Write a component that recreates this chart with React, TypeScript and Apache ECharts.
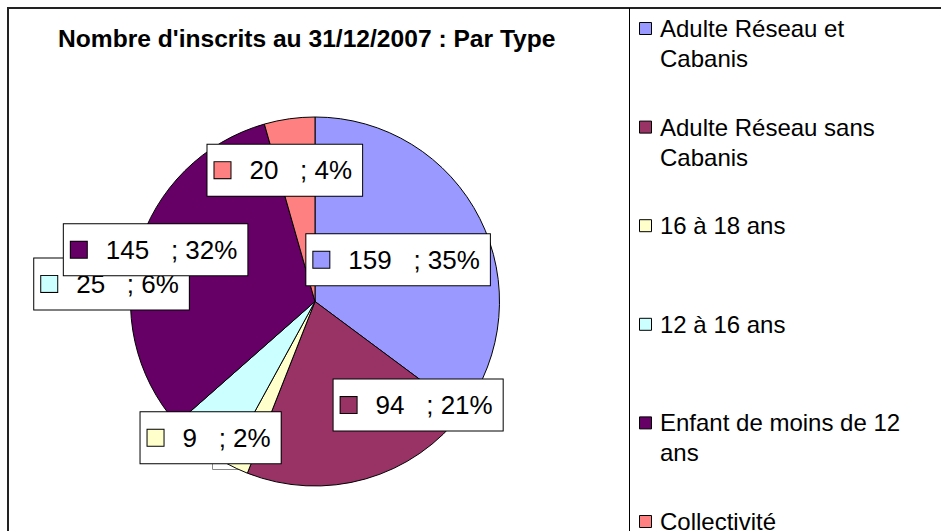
import React, { useEffect, useRef } from "react";
import * as echarts from "echarts";

const chartTitle = "Nombre d'inscrits au 31/12/2007 : Par Type";
const categories = [
  "Adulte Réseau et Cabanis",
  "Adulte Réseau sans Cabanis",
  "16 à 18 ans",
  "12 à 16 ans",
  "Enfant de moins de 12 ans",
  "Collectivité",
];
const legendLabels = [
  "Adulte Réseau et\nCabanis",
  "Adulte Réseau sans\nCabanis",
  "16 à 18 ans",
  "12 à 16 ans",
  "Enfant de moins de 12\nans",
  "Collectivité",
];
const values = [159, 94, 9, 25, 145, 20];
const colors = ["#9999FF", "#993366", "#FFFFCC", "#CCFFFF", "#660066", "#FF8080"];

// label nudges relative to the library's own "inside" placement (layout, not data)
const labelOffsets = [
  [-2, 1],
  [77, 12],
  [-64, 50],
  [-144, -92],
  [-68, -25],
  [-17, -37],
];

const FONT = "'Liberation Sans', Arial, sans-serif";

export default function App() {
  const ref = useRef<HTMLDivElement>(null);
  useEffect(() => {
    if (!ref.current) return;
    const chart = echarts.init(ref.current, undefined, { renderer: "svg" });

    const rich: any = {
      g: { width: 19, height: 17 },
      t: { fontSize: 26, lineHeight: 31, color: "#000", fontFamily: FONT },
    };
    colors.forEach((c, i) => {
      rich["k" + i] = {
        width: 16,
        height: 16,
        backgroundColor: c,
        borderColor: "#000",
        borderWidth: 1,
      };
    });

    const legendGraphics: any[] = [];
    categories.forEach((_, i) => {
      const cy = 28.5 + i * 98.6;
      legendGraphics.push({
        type: "rect",
        shape: { x: 639.5, y: cy - 6, width: 12, height: 12 },
        style: { fill: colors[i], stroke: "#000", lineWidth: 1 },
        z: 10,
      });
      legendGraphics.push({
        type: "text",
        x: 660,
        y: cy - 15,
        style: {
          text: legendLabels[i],
          font: `24px ${FONT}`,
          lineHeight: 30,
          fill: "#000",
          verticalAlign: "top",
          align: "left",
        },
        z: 10,
      });
    });

    chart.setOption({
      animation: false,
      backgroundColor: "#fff",
      title: {
        text: chartTitle,
        left: 58,
        top: 24,
        padding: 0,
        textStyle: {
          fontFamily: FONT,
          fontWeight: "bold",
          fontSize: 24.6,
          lineHeight: 28,
          color: "#000",
        },
      },
      graphic: [
        {
          type: "rect",
          shape: { x: 8, y: 8, width: 1000, height: 700 },
          style: { fill: "none", stroke: "#222", lineWidth: 2 },
          z: 0,
        },
        {
          type: "line",
          shape: { x1: 629.5, y1: 8, x2: 629.5, y2: 540 },
          style: { stroke: "#000", lineWidth: 1 },
          z: 0,
        },
        {
          type: "rect",
          shape: { x: 212.5, y: 450.5, width: 28, height: 19 },
          style: { fill: "#fff", stroke: "#888", lineWidth: 1 },
          z: 1,
        },
        ...legendGraphics,
      ],
      series: [
        {
          type: "pie",
          center: [315, 301.5],
          radius: [0, 184.5],
          startAngle: 90,
          clockwise: true,
          silent: true,
          avoidLabelOverlap: false,
          emphasis: { disabled: true },
          itemStyle: { borderColor: "#000", borderWidth: 1 },
          labelLine: { show: false },
          labelLayout: { hideOverlap: false },
          label: {
            show: true,
            position: "inside",
            backgroundColor: "#fff",
            borderColor: "#000",
            borderWidth: 1,
            padding: [10, 10, 10, 7],
            fontFamily: FONT,
            fontSize: 26,
            color: "#000",
            formatter: (p: any) =>
              `{k${p.dataIndex}|}{g|}{t|${p.value}   ; ${Math.round(p.percent)}%}`,
            rich,
          },
          data: categories.map((name, i) => ({
            name,
            value: values[i],
            itemStyle: { color: colors[i] },
            label: { offset: labelOffsets[i] },
          })),
        },
      ],
    });
    return () => chart.dispose();
  }, []);
  return (
    <div
      ref={ref}
      style={{ position: "fixed", left: 0, top: 0, width: 941, height: 531 }}
    />
  );
}
